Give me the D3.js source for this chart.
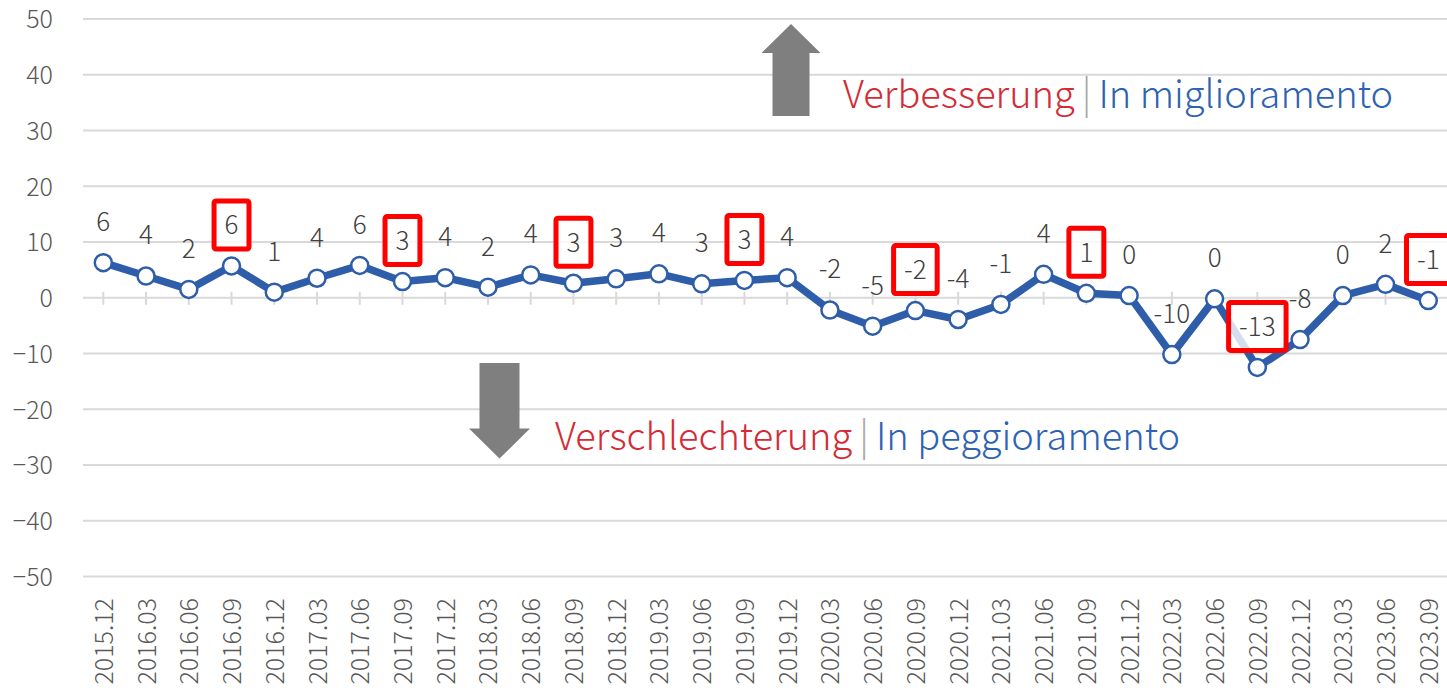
<!DOCTYPE html>
<html>
<head>
<meta charset="utf-8">
<script src="https://cdn.jsdelivr.net/npm/d3@7"></script>
<style>
  html, body { margin: 0; padding: 0; background: #fff; }
  svg { display: block; }
</style>
</head>
<body>
<svg id="chart" width="1447" height="695"></svg>
<script>
// ---- data ----
const categories = ["2015.12","2016.03","2016.06","2016.09","2016.12","2017.03","2017.06","2017.09","2017.12",
  "2018.03","2018.06","2018.09","2018.12","2019.03","2019.06","2019.09","2019.12",
  "2020.03","2020.06","2020.09","2020.12","2021.03","2021.06","2021.09","2021.12",
  "2022.03","2022.06","2022.09","2022.12","2023.03","2023.06","2023.09"];
const values = [6.3, 3.9, 1.5, 5.7, 1.0, 3.5, 5.8, 2.9, 3.6,
  1.9, 4.1, 2.6, 3.4, 4.3, 2.5, 3.1, 3.6,
  -2.2, -5.1, -2.3, -3.9, -1.2, 4.2, 0.8, 0.4,
  -10.2, -0.2, -12.5, -7.5, 0.4, 2.4, -0.5];
const labels = ["6","4","2","6","1","4","6","3","4","2","4","3","3","4","3","3","4",
  "-2","-5","-2","-4","-1","4","1","0","-10","0","-13","-8","0","2","-1"];
const highlighted = ["2016.09","2017.09","2018.09","2019.09","2020.09","2021.09","2022.09","2023.09"];
const yTicks = [50, 40, 30, 20, 10, 0, -10, -20, -30, -40, -50];
const upText = ["Verbesserung", "In miglioramento"];
const downText = ["Verschlechterung", "In peggioramento"];

// ---- layout ----
const FONT = "'Noto Sans CJK JP', 'Noto Sans', sans-serif";
const svg = d3.select("#chart");
const x = d3.scalePoint().domain(categories).range([103.3, 1428.3]);
const y = d3.scaleLinear().domain([-50, 50]).range([576.5, 19]);
const gridLeft = 83, gridRight = 1447;
const gridColor = "#d9d9d9";
const lineColor = "#2E5DA9";
const textGray = "#595959";

// gridlines
svg.append("g").selectAll("line").data(yTicks).join("line")
  .attr("x1", gridLeft).attr("x2", gridRight)
  .attr("y1", d => y(d)).attr("y2", d => y(d))
  .attr("stroke", gridColor).attr("stroke-width", 2);

// y axis labels
const yAxis = d3.axisLeft(y).tickValues(yTicks).tickSize(0).tickPadding(0);
const gy = svg.append("g").attr("transform", "translate(53,0)").call(yAxis);
gy.select(".domain").remove();
gy.selectAll("text")
  .attr("font-family", FONT).attr("font-size", 25).attr("font-weight", 300)
  .attr("fill", textGray).attr("dy", "0.35em");

// x axis ticks crossing zero line
svg.append("g").selectAll("line").data(categories).join("line")
  .attr("x1", d => x(d)).attr("x2", d => x(d))
  .attr("y1", y(0) - 6).attr("y2", y(0) + 7)
  .attr("stroke", gridColor).attr("stroke-width", 2);

// x labels
svg.append("g").selectAll("text").data(categories).join("text")
  .attr("transform", d => `translate(${x(d)},598) rotate(-90)`)
  .attr("text-anchor", "end")
  .attr("dy", "0.38em")
  .attr("font-family", FONT).attr("font-size", 25).attr("font-weight", 300)
  .attr("fill", textGray)
  .text(d => d);

// line
const pts = categories.map((c, i) => ({ c, v: values[i], lab: labels[i], hi: highlighted.includes(c) }));
svg.append("path").datum(pts)
  .attr("d", d3.line().x(d => x(d.c)).y(d => y(d.v)))
  .attr("fill", "none").attr("stroke", lineColor).attr("stroke-width", 7.5)
  .attr("stroke-linejoin", "round");

// markers
svg.append("g").selectAll("circle").data(pts).join("circle")
  .attr("cx", d => x(d.c)).attr("cy", d => y(d.v)).attr("r", 8.5)
  .attr("fill", "#fff").attr("stroke", lineColor).attr("stroke-width", 2.5);

// labels
const labelOffset = 41;
const lg = svg.append("g");
const labelNodes = lg.selectAll("g").data(pts).join("g")
  .attr("transform", d => `translate(${x(d.c)},${y(d.v) - labelOffset})`);
labelNodes.append("text")
  .attr("text-anchor", "middle").attr("dy", "0.36em")
  .attr("font-family", FONT).attr("font-size", 26).attr("font-weight", 300)
  .attr("fill", "#404040")
  .text(d => d.lab);
labelNodes.filter(d => d.hi).each(function () {
  const g = d3.select(this);
  const w = g.select("text").node().getComputedTextLength() + 21;
  g.insert("rect", "text")
    .attr("x", -w / 2).attr("y", -24).attr("width", w).attr("height", 48)
    .attr("rx", 2)
    .attr("fill", "#fff").attr("fill-opacity", 0.8)
    .attr("stroke", "#FF0000").attr("stroke-width", 5);
});

// arrows
const arrowColor = "#7f7f7f";
function upArrow(cx, tip, headBase, bottom, headW, shaftW) {
  return `M${cx},${tip} L${cx + headW / 2},${headBase} L${cx + shaftW / 2},${headBase} L${cx + shaftW / 2},${bottom}
          L${cx - shaftW / 2},${bottom} L${cx - shaftW / 2},${headBase} L${cx - headW / 2},${headBase} Z`;
}
svg.append("path").attr("d", upArrow(791, 24, 53, 116, 59, 37)).attr("fill", arrowColor);
svg.append("path").attr("d", upArrow(499.5, 458.5, 428.5, 363, 61, 40)).attr("fill", arrowColor);

// annotation texts
function annot(xPos, yPos, parts) {
  const t = svg.append("text").attr("x", xPos).attr("y", yPos)
    .attr("font-family", FONT).attr("font-size", 38).attr("font-weight", 300);
  t.append("tspan").attr("fill", "#D42B36").text(parts[0]);
  t.append("tspan").attr("fill", "#a6a6a6").attr("dx", 7).text("|");
  t.append("tspan").attr("fill", "#2E62B2").attr("dx", 7).text(parts[1]);
}
annot(843, 108, upText);
annot(555, 450, downText);
</script>
</body>
</html>
